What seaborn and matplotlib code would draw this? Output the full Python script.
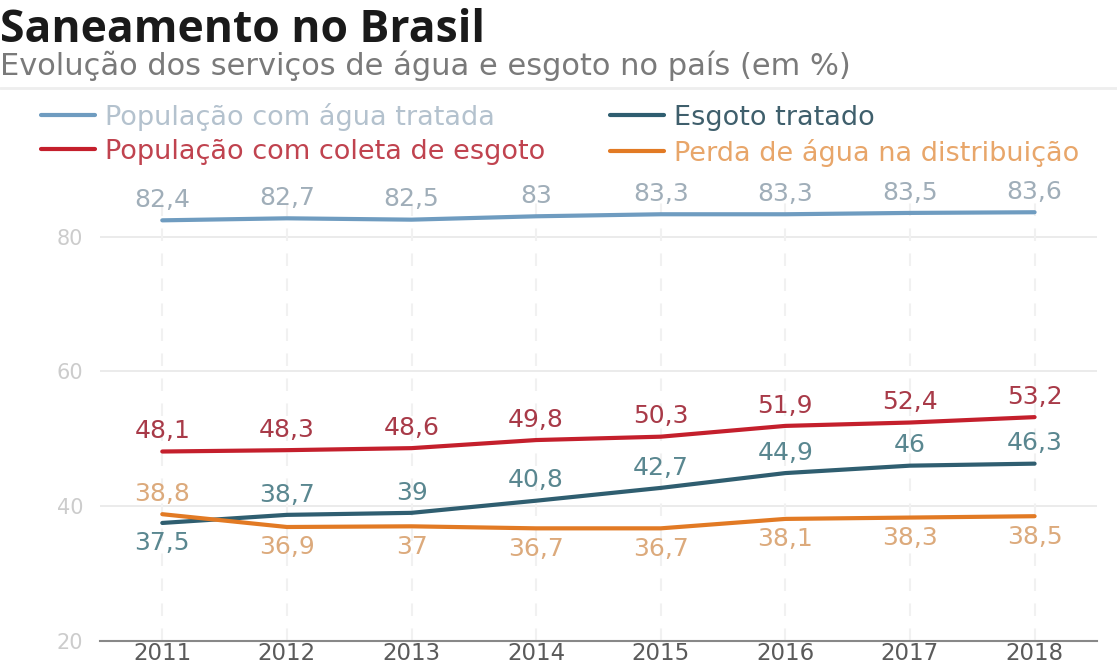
import matplotlib
matplotlib.use("Agg")
import matplotlib.pyplot as plt
import seaborn as sns
import pandas as pd
from matplotlib.lines import Line2D

years = [2011, 2012, 2013, 2014, 2015, 2016, 2017, 2018]
agua_tratada = [82.4, 82.7, 82.5, 83, 83.3, 83.3, 83.5, 83.6]
coleta_esgoto = [48.1, 48.3, 48.6, 49.8, 50.3, 51.9, 52.4, 53.2]
esgoto_tratado = [37.5, 38.7, 39, 40.8, 42.7, 44.9, 46, 46.3]
perda_agua = [38.8, 36.9, 37, 36.7, 36.7, 38.1, 38.3, 38.5]
y_ticks = [20, 40, 60, 80]

series_names = ["População com água tratada", "População com coleta de esgoto",
                "Esgoto tratado", "Perda de água na distribuição"]
series_values = [agua_tratada, coleta_esgoto, esgoto_tratado, perda_agua]
line_colors = ["#6f9cc0", "#c41f2c", "#2f5e70", "#e27a24"]
text_colors = ["#b4c2ce", "#c0434f", "#3f5f6c", "#e8a66a"]
label_colors = ["#a0aeb9", "#a83a48", "#5a8790", "#dcaa7c"]
# label placement: +1 above, -1 below per point
placements = [
    [1] * 8,
    [1] * 8,
    [-1] + [1] * 7,
    [1] + [-1] * 7,
]

sns.set_theme(style="white")
plt.rcParams['font.family'] = ['DejaVu Sans']

df = pd.DataFrame({
    "ano": years * 4,
    "valor": sum(series_values, []),
    "serie": sum([[n] * len(years) for n in series_names], []),
})

fig = plt.figure(figsize=(11.17, 6.69), dpi=100)
ax = fig.add_axes([0.0895, 0.042, 0.8925, 0.675])

sns.lineplot(data=df, x="ano", y="valor", hue="serie", hue_order=series_names,
             palette=dict(zip(series_names, line_colors)), linewidth=3, ax=ax,
             legend=False)

def fmt(v):
    s = f"{v:g}"
    return s.replace(".", ",")

for vals, col, pl in zip(series_values, label_colors, placements):
    for x, v, p in zip(years, vals, pl):
        ax.annotate(fmt(v), (x, v), xytext=(0, 6 * p), textcoords="offset points",
                    ha="center", va="bottom" if p > 0 else "top",
                    fontsize=18, color=col)

ax.set_xlim(2010.5, 2018.5)
ax.set_ylim(20, 87)
ax.set_xticks(years)
ax.set_xticklabels([str(y) for y in years], fontsize=16.5, color="#5a5a5a")
ax.set_yticks(y_ticks)
ax.set_yticklabels([str(t) for t in y_ticks], fontsize=15, color="#cccccc")
ax.tick_params(axis="x", length=0, pad=1)
ax.tick_params(axis="y", length=0, pad=12)
ax.set_xlabel("")
ax.set_ylabel("")
for t in [40, 60, 80]:
    ax.axhline(t, color="#e8e8e8", lw=1.2, zorder=0)
for y in years:
    ax.axvline(y, color="#f1f1f1", lw=1.5, ls=(0, (6, 6)), zorder=0, ymax=0.97)
for s in ["top", "right", "left"]:
    ax.spines[s].set_visible(False)
ax.spines["bottom"].set_color("#888888")
ax.spines["bottom"].set_linewidth(1.5)

handles = [Line2D([], [], color=c, lw=3) for c in line_colors]
leg = fig.legend(handles, series_names, ncol=2, loc="upper left",
                 bbox_to_anchor=(0.015, 0.883), frameon=False, fontsize=19.5,
                 handlelength=2.0, handletextpad=0.35, columnspacing=2.4,
                 labelspacing=0.3)
for txt, c in zip(leg.get_texts(), text_colors):
    txt.set_color(c)

fig.text(0.0, 0.937, "Saneamento no Brasil", fontsize=32, fontweight="bold",
         color="#1a1a1a", va="baseline", ha="left", family="Open Sans")
fig.text(0.0, 0.888, "Evolução dos serviços de água e esgoto no país (em %)",
         fontsize=22, color="#7a7a7a", va="baseline", ha="left")
fig.add_artist(Line2D([0, 1], [0.868, 0.868], transform=fig.transFigure,
                      color="#eeeeee", lw=2))

fig.savefig("out.png", dpi=100)
